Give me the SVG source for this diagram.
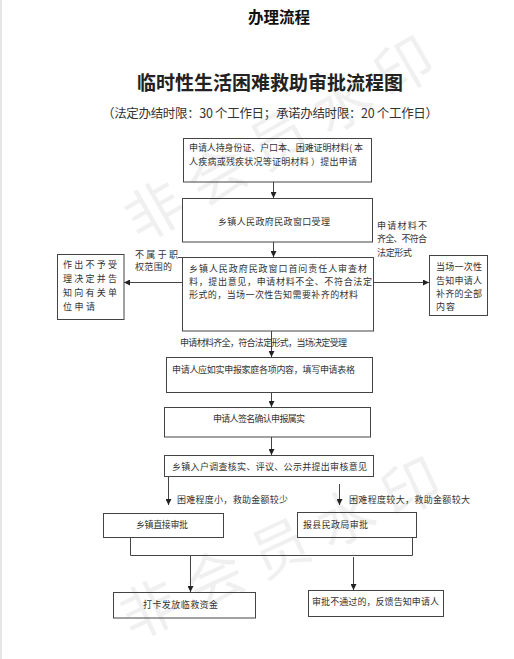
<svg xmlns="http://www.w3.org/2000/svg" width="514" height="659" viewBox="0 0 514 659">
<defs>
<marker id="ah" markerUnits="userSpaceOnUse" markerWidth="6" markerHeight="6" refX="6" refY="3" orient="auto">
<path d="M0,0 L6,3 L0,6 z" fill="#222"/>
</marker>
<style>
text{font-family:"Noto Sans CJK SC","Noto Sans",sans-serif;}
.t{font-size:9px;fill:#333;}
.box{fill:none;stroke:#444;stroke-width:1;}
.ln{fill:none;stroke:#444;stroke-width:1;}
.ar{fill:none;stroke:#444;stroke-width:1;marker-end:url(#ah);}
.wm{font-size:58px;fill:#000;fill-opacity:0.06;letter-spacing:14px;}
</style>
</defs>
<rect x="0" y="0" width="514" height="659" fill="#fff"/>
<rect x="0" y="0" width="2" height="659" fill="#e6e6e6"/>
<g id="watermark">
<text class="wm" transform="translate(155,212) rotate(-30)" x="-29" y="20">非会员水印</text>
<text class="wm" transform="translate(150,610) rotate(-25)" x="-29" y="20">非会员水印</text>
</g>
<g id="titles">
<text x="279" y="23" text-anchor="middle" font-size="15.5" font-weight="700" fill="#111">办理流程</text>
<text x="270" y="90" text-anchor="middle" font-size="19" font-weight="700" fill="#222" textLength="266">临时性生活困难救助审批流程图</text>
<text x="270" y="117.5" text-anchor="middle" font-size="12.5" fill="#333" textLength="336">（法定办结时限：30 个工作日；承诺办结时限：20 个工作日）</text>
</g>
<g id="connectors">
<line class="ar" x1="273.5" y1="182" x2="273.5" y2="198"/>
<line class="ar" x1="273.5" y1="242" x2="273.5" y2="257"/>
<line class="ar" x1="183" y1="282.5" x2="124" y2="282.5"/>
<line class="ar" x1="373" y1="282.5" x2="429" y2="282.5"/>
<line class="ln" x1="178" y1="257.5" x2="183" y2="257.5"/>
<line class="ar" x1="271.5" y1="331" x2="271.5" y2="357"/>
<line class="ar" x1="271.5" y1="392" x2="271.5" y2="407"/>
<line class="ar" x1="271.5" y1="437" x2="271.5" y2="455"/>
<line class="ar" x1="168.5" y1="476" x2="168.5" y2="505"/>
<line class="ar" x1="339.5" y1="484" x2="339.5" y2="505"/>
<polyline class="ln" points="130.5,537 130.5,555.5 412.5,555.5 412.5,537"/>
<line class="ar" x1="190.5" y1="555" x2="190.5" y2="592"/>
<line class="ar" x1="353.5" y1="557" x2="353.5" y2="590"/>
</g>
<g id="n1">
<rect class="box" x="183.5" y="138.5" width="188" height="43.5"/>
<text class="t" x="189" y="151" textLength="174">申请人持身份证、户口本、困难证明材料( 本</text>
<text class="t" x="189" y="164.5" textLength="168">人疾病或残疾状况等证明材料 ）提出申请</text>
</g>
<g id="n2">
<rect class="box" x="182.5" y="198.5" width="190" height="43.5"/>
<text class="t" x="218" y="225" textLength="112">乡镇人民政府民政窗口受理</text>
</g>
<g id="n3">
<rect class="box" x="182.5" y="257.5" width="191" height="73.5"/>
<text class="t" x="189" y="272" textLength="178">乡镇人民政府民政窗口首问责任人审查材</text>
<text class="t" x="189" y="285" textLength="183">料，提出意见，申请材料不全、不符合法定</text>
<text class="t" x="189" y="298" textLength="169">形式的，当场一次性告知需要补齐的材料</text>
</g>
<g id="lbl-left">
<text class="t" x="135" y="258" textLength="43">不属于职</text>
<text class="t" x="135" y="270" textLength="37">权范围的</text>
</g>
<g id="n-left">
<rect class="box" x="57.5" y="254.5" width="66.5" height="65"/>
<text class="t" x="63" y="268" textLength="54">作出不予受</text>
<text class="t" x="63" y="282" textLength="54">理决定并告</text>
<text class="t" x="63" y="296" textLength="54">知向有关单</text>
<text class="t" x="63" y="310" textLength="32">位申请</text>
</g>
<g id="lbl-right">
<text class="t" x="377" y="229" textLength="50">申请材料不</text>
<text class="t" x="377" y="242" textLength="50">齐全、不符合</text>
<text class="t" x="377" y="256" textLength="35">法定形式</text>
</g>
<g id="n-right">
<rect class="box" x="429.5" y="255.5" width="58" height="60"/>
<text class="t" x="436" y="270" textLength="46">当场一次性</text>
<text class="t" x="436" y="284" textLength="46">告知申请人</text>
<text class="t" x="436" y="297" textLength="46">补齐的全部</text>
<text class="t" x="436" y="310" textLength="19">内容</text>
</g>
<g id="lbl-accept">
<text class="t" x="180" y="346" textLength="167">申请材料齐全，符合法定形式，当场决定受理</text>
</g>
<g id="n4">
<rect class="box" x="166.5" y="357.5" width="206" height="35"/>
<text class="t" x="172" y="372.5" textLength="183">申请人应如实申报家庭各项内容，填写申请表格</text>
</g>
<g id="n5">
<rect class="box" x="164.5" y="407.5" width="206" height="29.5"/>
<text class="t" x="213" y="422" textLength="92">申请人签名确认申报属实</text>
</g>
<g id="n6">
<rect class="box" x="164.5" y="455.5" width="209" height="21"/>
<text class="t" x="172" y="470" textLength="195">乡镇入户调查核实、评议、公示并提出审核意见</text>
</g>
<g id="lbl-small">
<text class="t" x="177" y="503" textLength="111">困难程度小，救助金额较少</text>
</g>
<g id="lbl-large">
<text class="t" x="349" y="503" textLength="121">困难程度较大，救助金额较大</text>
</g>
<g id="n7">
<rect class="box" x="103.5" y="513.5" width="120" height="24"/>
<text class="t" x="136" y="528" textLength="52">乡镇直接审批</text>
</g>
<g id="n8">
<rect class="box" x="297.5" y="512.5" width="119" height="25"/>
<text class="t" x="303" y="528" textLength="65">报县民政局审批</text>
</g>
<g id="n9">
<rect class="box" x="113.5" y="592.5" width="142" height="25.5"/>
<text class="t" x="143" y="608" textLength="75">打卡发放临救资金</text>
</g>
<g id="n10">
<rect class="box" x="308.5" y="590.5" width="135" height="26"/>
<text class="t" x="312" y="605" textLength="127">审批不通过的，反馈告知申请人</text>
</g>
</svg>
